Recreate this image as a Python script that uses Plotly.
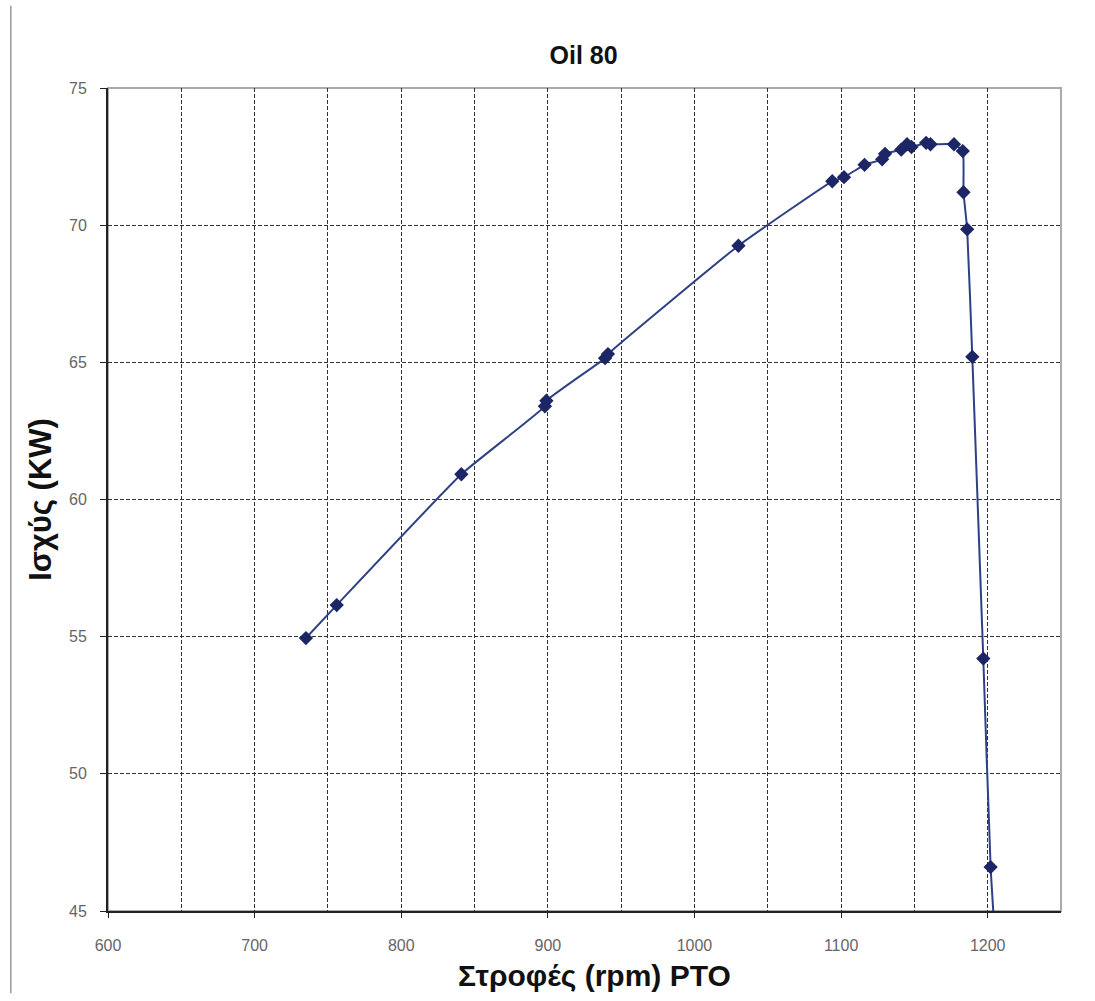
import plotly.graph_objects as go

# Data
rpm = [735, 756, 841, 898, 899, 939, 941, 1030, 1094, 1102, 1116, 1128, 1130,
       1141, 1145, 1148, 1158, 1161, 1177, 1183, 1183.5, 1186, 1189.5, 1197, 1202, 1205]
power_kw = [54.95, 56.15, 60.92, 63.4, 63.6, 65.15, 65.3, 69.25, 71.6, 71.75, 72.2,
            72.4, 72.6, 72.75, 72.95, 72.85, 73.0, 72.95, 72.95, 72.7, 71.2, 69.85,
            65.2, 54.2, 46.6, 44.0]
x_tick_vals = [600, 700, 800, 900, 1000, 1100, 1200]
y_tick_vals = [45, 50, 55, 60, 65, 70, 75]
x_title = "Στροφές (rpm) PTO"
y_title = "Ισχύς (KW)"

fig = go.Figure()
fig.add_trace(go.Scatter(
    x=rpm, y=power_kw, mode="lines+markers",
    line=dict(color="#2f4184", width=2, shape="spline", smoothing=0.4),
    marker=dict(symbol="diamond", size=11, color="#1c2565"),
    showlegend=False, cliponaxis=True,
))

dash = "4px,2px"

fig.update_layout(
    width=1095, height=1001,
    margin=dict(l=108, r=34, t=88, b=90),
    paper_bgcolor="white", plot_bgcolor="white",
    title=dict(text="<b>Oil 80</b>", x=0.533, xanchor="center", y=0.945, yanchor="middle",
               font=dict(family="Arial, Liberation Sans", size=25, color="#111111")),
    font=dict(family="Arial, Liberation Sans", color="#666666"),
    xaxis=dict(
        range=[600, 1250], tickvals=x_tick_vals,
        ticks="outside", ticklen=5, tickcolor="#222222",
        tickfont=dict(size=16, color="#666666"), ticklabelstandoff=14,
        showline=True, linecolor="#222222", linewidth=2,
        gridcolor="#333333", gridwidth=1, griddash=dash, showgrid=True,
        minor=dict(dtick=50, showgrid=True, gridcolor="#333333", gridwidth=1, griddash=dash),
        zeroline=False,
    ),
    yaxis=dict(
        range=[45, 75], tickvals=y_tick_vals,
        ticks="outside", ticklen=6, tickcolor="#222222",
        tickfont=dict(size=16, color="#666666"), ticklabelstandoff=10,
        showline=True, linecolor="#222222", linewidth=2,
        showgrid=True, gridcolor="#333333", gridwidth=1, griddash=dash,
        zeroline=False,
        title=dict(text="<b>" + y_title + "</b>", standoff=8,
                   font=dict(family="Arial, Liberation Sans", size=31, color="#111111")),
    ),
    annotations=[
        dict(text="<b>" + x_title + "</b>", xref="paper", yref="paper",
             x=0.511, y=-0.078, xanchor="center", yanchor="middle", showarrow=False,
             font=dict(family="Arial, Liberation Sans", size=30, color="#111111")),
    ],
    shapes=[
        dict(type="rect", xref="paper", yref="paper", x0=0, x1=1, y0=0, y1=1,
             line=dict(color="#aaaaaa", width=2), layer="below"),
        dict(type="line", xref="paper", yref="paper", x0=-0.102, x1=-0.102, y0=-0.1, y1=1.1,
             line=dict(color="#999999", width=1.5)),
    ],
)

fig.write_html("out.html")
